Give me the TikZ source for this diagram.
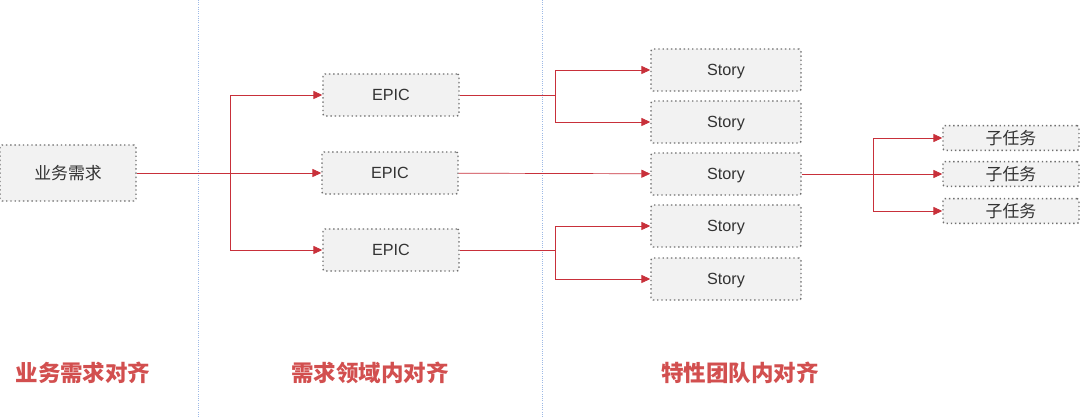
\documentclass[tikz,border=0pt]{standalone}
\usepackage{fontspec}
\setmainfont{Liberation Sans}
\newfontfamily\cjk{Noto Sans CJK SC}
\usepackage{tikz}
\usetikzlibrary{arrows.meta, positioning, calc}
\usepackage{xcolor}
\definecolor{linkred}{HTML}{C8303A}
\definecolor{titlered}{HTML}{D24F4F}
\definecolor{boxfill}{HTML}{F2F2F2}
\definecolor{boxline}{HTML}{6F6F6F}
\definecolor{textgray}{HTML}{333333}
\definecolor{sepblue}{HTML}{9DB9E6}

\begin{document}
\begin{tikzpicture}[
    x=0.025cm, y=-0.025cm,
    item/.style={rounded corners=1.5pt, draw=boxline, dotted, line width=1pt, fill=boxfill, text=textgray, inner sep=0pt, font=\fontsize{11.5}{13}\selectfont},
    epicbox/.style={item, minimum width=3.4cm, minimum height=1.05cm},
    storybox/.style={item, minimum width=3.75cm, minimum height=1.05cm, text depth=0pt},
    taskbox/.style={item, minimum width=3.4cm, minimum height=0.62cm, font=\cjk\fontsize{12}{13}\selectfont},
    edge/.style={-{Triangle[length=2.2mm, width=2mm]}, draw=linkred, line width=0.5pt},
    link/.style={draw=linkred, line width=0.6pt},
    sep/.style={draw=sepblue, densely dotted, line width=0.6pt},
    stage/.style={text=titlered, font=\cjk\bfseries\fontsize{16}{18}\selectfont},
]
\useasboundingbox (0,0) rectangle (1080,418);

% stage separators
\draw[sep] (198,0) -- (198,418);
\draw[sep] (542,0) -- (542,418);

% nodes
\node[item, minimum width=3.4cm, minimum height=1.4cm, font=\cjk\fontsize{12}{14}\selectfont] (req) at (68,173) {业务需求};

\node[epicbox] (epic1) at (391,95) {EPIC};
\node[epicbox] (epic2) at (390,173) {EPIC};
\node[epicbox] (epic3) at (391,250) {EPIC};

\node[storybox] (story1) at (726,70) {Story};
\node[storybox] (story2) at (726,122) {Story};
\node[storybox] (story3) at (726,174) {Story};
\node[storybox] (story4) at (726,226) {Story};
\node[storybox] (story5) at (726,279) {Story};

\node[taskbox] (task1) at (1011,138) {子任务};
\node[taskbox] (task2) at (1011,174) {子任务};
\node[taskbox] (task3) at (1011,211) {子任务};

% branch points
\coordinate (fork0) at (230,173);
\coordinate (fork1) at (555,95);
\coordinate (fork3) at (555,250);
\coordinate (fork4) at (873,174);

% connectors
\draw[link] (req) -- (fork0);
\draw[edge] (fork0) |- (epic1);
\draw[edge] (fork0) -- (epic2);
\draw[edge] (fork0) |- (epic3);

\draw[link] (epic1) -- (fork1);
\draw[edge] (fork1) |- (story1);
\draw[edge] (fork1) |- (story2);
\draw[edge] (epic2) -- (story3);
\draw[link] (epic3) -- (fork3);
\draw[edge] (fork3) |- (story4);
\draw[edge] (fork3) |- (story5);

\draw[link] (story3) -- (fork4);
\draw[edge] (fork4) |- (task1);
\draw[edge] (fork4) -- (task2);
\draw[edge] (fork4) |- (task3);

% stage titles
\node[stage] (title1) at (83,373) {业务需求对齐};
\node[stage] (title2) at (370,373) {需求领域内对齐};
\node[stage] (title3) at (740,373) {特性团队内对齐};

\end{tikzpicture}
\end{document}
